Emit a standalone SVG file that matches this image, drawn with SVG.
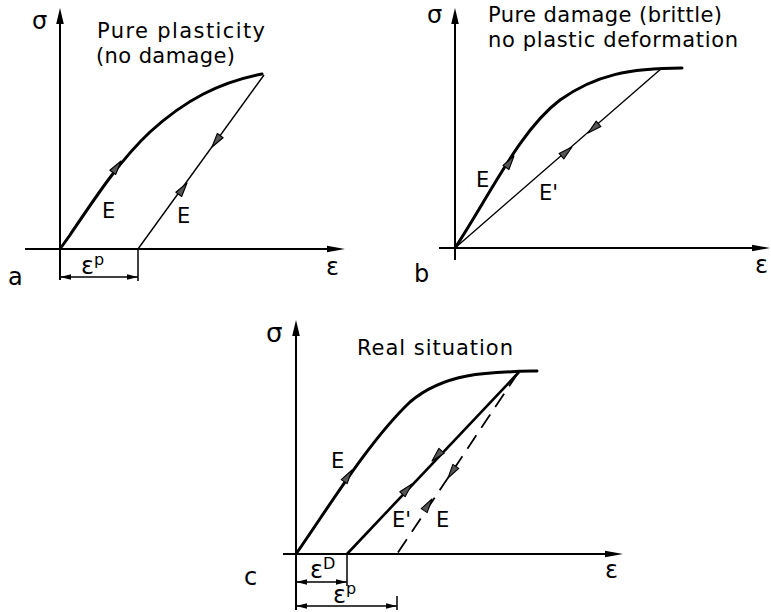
<svg xmlns="http://www.w3.org/2000/svg" width="771" height="612" viewBox="0 0 771 612">
<style>
  .bg { fill: #ffffff; }
  .axis { stroke: #000; stroke-width: 2; fill: none; }
  .load { stroke: #000; stroke-width: 3; fill: none; stroke-linecap: round; }
  .unload { stroke: #000; stroke-width: 1.4; fill: none; }
  .unloadc { stroke: #000; stroke-width: 2.6; fill: none; }
  .dash { stroke: #000; stroke-width: 1.8; fill: none; stroke-dasharray: 16 9; }
  .dim { stroke: #000; stroke-width: 1.5; fill: none; }
  .t { font-family: "DejaVu Sans", "Liberation Sans", sans-serif; fill: #000; }
  .title { font-size: 21px; }
  .lbl { font-size: 21px; }
  .sym { font-size: 24px; }
  .sup { font-size: 16px; }
</style>
<defs>
  <path id="ah" d="M0,0 L-14,-3.6 L-14,3.6 Z" fill="#555" stroke="#000" stroke-width="1.1" stroke-linejoin="round"/>
  <path id="axup" d="M0,0 L-3.8,16 L3.8,16 Z" fill="#000"/>
  <path id="axright" d="M0,0 L-18,-3.2 L-18,3.2 Z" fill="#000"/>
  <path id="dimh" d="M0,0 L-11,-2.8 L-11,2.8 Z" fill="#000"/>
</defs>
<rect class="bg" x="0" y="0" width="771" height="612"/>

<!-- Panel a -->
<g id="panel-a">
  <line class="axis" x1="60" y1="280" x2="60" y2="14"/>
  <use href="#axup" x="60" y="8"/>
  <line class="axis" x1="25" y1="249" x2="335" y2="249"/>
  <use href="#axright" x="345" y="249"/>
  <text class="t sym" x="32" y="29">σ</text>
  <text class="t title" x="97" y="38" textLength="168">Pure plasticity</text>
  <text class="t title" x="96" y="63" textLength="139">(no damage)</text>
  <path class="load" d="M60,249 L70,235 C95,198 120,160 150,132 C185,100 220,82 262,74"/>
  <line class="unload" x1="138" y1="249" x2="264" y2="75"/>
  <use href="#ah" transform="translate(121,161) rotate(-54)"/>
  <use href="#ah" transform="translate(187,183) rotate(-54)"/>
  <use href="#ah" transform="translate(212,147) rotate(126)"/>
  <text class="t lbl" x="102" y="218">E</text>
  <text class="t lbl" x="177" y="223">E</text>
  <text class="t sym" x="326" y="275">ε</text>
  <text class="t sym" x="8" y="285">a</text>
  <line class="dim" x1="138" y1="249" x2="138" y2="281"/>
  <line class="dim" x1="60" y1="277" x2="138" y2="277"/>
  <use href="#dimh" transform="translate(60,277) rotate(180)"/>
  <use href="#dimh" transform="translate(138,277)"/>
  <text class="t sym" x="81" y="274">ε<tspan class="sup" dy="-9">p</tspan></text>
</g>

<!-- Panel b -->
<g id="panel-b">
  <line class="axis" x1="455" y1="260" x2="455" y2="14"/>
  <use href="#axup" x="455" y="8"/>
  <line class="axis" x1="439" y1="248" x2="760" y2="248"/>
  <use href="#axright" x="770" y="248"/>
  <text class="t sym" x="427" y="23">σ</text>
  <text class="t title" x="488" y="22" textLength="234">Pure damage (brittle)</text>
  <text class="t title" x="488" y="47" textLength="250">no plastic deformation</text>
  <path class="load" d="M455,248 C490,195 520,130 560,100 C595,75 630,68 682,68"/>
  <line class="unload" x1="455" y1="248" x2="662" y2="68"/>
  <use href="#ah" transform="translate(514,156) rotate(-55)"/>
  <use href="#ah" transform="translate(572,147) rotate(-41)"/>
  <use href="#ah" transform="translate(588,133) rotate(139)"/>
  <text class="t lbl" x="476" y="187">E</text>
  <text class="t lbl" x="539" y="200">E'</text>
  <text class="t sym" x="755" y="273">ε</text>
  <text class="t sym" x="414" y="282">b</text>
</g>

<!-- Panel c -->
<g id="panel-c">
  <line class="axis" x1="296" y1="610" x2="296" y2="326"/>
  <use href="#axup" x="296" y="320"/>
  <line class="axis" x1="283" y1="554" x2="613" y2="554"/>
  <use href="#axright" x="623" y="554"/>
  <text class="t sym" x="266" y="342" style="font-size:26px">σ</text>
  <text class="t title" x="357" y="355" textLength="156">Real situation</text>
  <path class="load" d="M296,554 C330,505 370,440 410,402 C445,372 490,372 537,371"/>
  <line class="unloadc" x1="347" y1="554" x2="519" y2="372"/>
  <line class="dash" x1="518" y1="373" x2="397" y2="554"/>
  <use href="#ah" transform="translate(352,470) rotate(-56)"/>
  <use href="#ah" transform="translate(412,484) rotate(-47)"/>
  <use href="#ah" transform="translate(432,461) rotate(133)"/>
  <use href="#ah" transform="translate(432,499) rotate(-56)"/>
  <use href="#ah" transform="translate(448,478) rotate(124)"/>
  <text class="t lbl" x="331" y="468">E</text>
  <text class="t lbl" x="392" y="527">E'</text>
  <text class="t lbl" x="436" y="527">E</text>
  <text class="t sym" x="605" y="578">ε</text>
  <text class="t sym" x="244" y="585">c</text>
  <line class="dim" x1="347" y1="554" x2="347" y2="586"/>
  <line class="dim" x1="296" y1="582" x2="347" y2="582"/>
  <use href="#dimh" transform="translate(296,582) rotate(180)"/>
  <use href="#dimh" transform="translate(347,582)"/>
  <text class="t sym" x="310" y="578">ε<tspan class="sup" dy="-9">D</tspan></text>
  <line class="dim" x1="397" y1="596" x2="397" y2="610"/>
  <line class="dim" x1="296" y1="606" x2="397" y2="606"/>
  <use href="#dimh" transform="translate(296,606) rotate(180)"/>
  <use href="#dimh" transform="translate(397,606)"/>
  <text class="t sym" x="333" y="603">ε<tspan class="sup" dy="-9">p</tspan></text>
</g>
</svg>
